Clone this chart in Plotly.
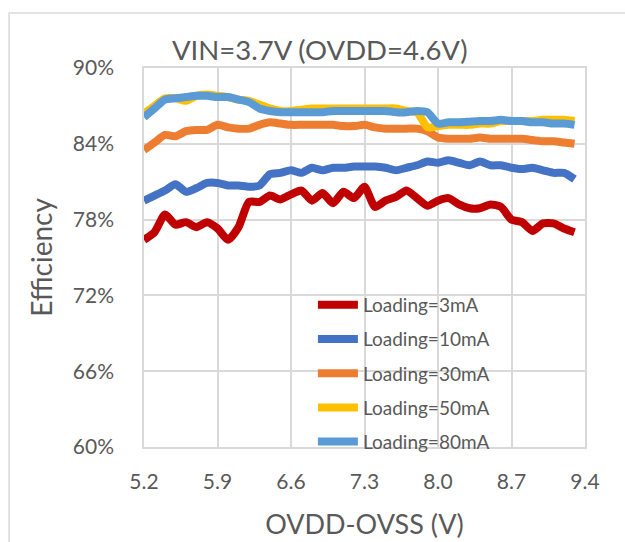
import plotly.graph_objects as go

voltage = [round(5.2 + 0.1 * i, 1) for i in range(42)]

eff_3mA = [76.4, 77.0, 78.4, 77.6, 77.8, 77.4, 77.8, 77.3, 76.4, 77.4,
           79.4, 79.4, 79.9, 79.6, 80.0, 80.3, 79.5, 80.1, 79.3, 80.2,
           79.7, 80.6, 79.0, 79.5, 79.8, 80.3, 79.7, 79.1, 79.5, 79.7,
           79.2, 78.9, 78.9, 79.2, 79.0, 78.0, 77.8, 77.1, 77.7, 77.7,
           77.3, 77.0]
eff_10mA = [79.5, 79.9, 80.3, 80.8, 80.2, 80.5, 80.9, 80.9, 80.7, 80.7,
            80.6, 80.7, 81.6, 81.7, 81.9, 81.7, 82.1, 81.9, 82.1, 82.1,
            82.2, 82.2, 82.2, 82.1, 81.9, 82.1, 82.3, 82.6, 82.5, 82.7,
            82.5, 82.3, 82.6, 82.3, 82.3, 82.1, 82.0, 82.1, 81.9, 81.7,
            81.7, 81.2]
eff_30mA = [83.5, 84.1, 84.7, 84.6, 85.0, 85.1, 85.1, 85.5, 85.3, 85.2,
            85.2, 85.5, 85.7, 85.6, 85.5, 85.5, 85.5, 85.5, 85.5, 85.4,
            85.4, 85.5, 85.3, 85.2, 85.2, 85.2, 85.2, 85.0, 84.5, 84.4,
            84.4, 84.4, 84.5, 84.4, 84.4, 84.4, 84.4, 84.3, 84.2, 84.2,
            84.1, 84.0]
eff_50mA = [86.4, 87.0, 87.6, 87.6, 87.4, 87.8, 87.9, 87.8, 87.7, 87.5,
            87.4, 87.1, 86.8, 86.6, 86.6, 86.7, 86.8, 86.8, 86.8, 86.8,
            86.8, 86.8, 86.8, 86.8, 86.8, 86.6, 86.5, 85.3, 85.4, 85.5,
            85.5, 85.5, 85.6, 85.6, 85.8, 85.8, 85.8, 85.8, 85.9, 85.9,
            85.9, 85.8]
eff_80mA = [86.1, 86.8, 87.5, 87.6, 87.7, 87.8, 87.8, 87.7, 87.7, 87.5,
            87.3, 86.8, 86.6, 86.5, 86.5, 86.5, 86.5, 86.5, 86.6, 86.6,
            86.6, 86.6, 86.6, 86.6, 86.5, 86.5, 86.6, 86.5, 85.6, 85.7,
            85.7, 85.75, 85.8, 85.8, 85.9, 85.8, 85.8, 85.7, 85.7, 85.6,
            85.6, 85.5]

series_names = ["Loading=3mA", "Loading=10mA", "Loading=30mA",
                "Loading=50mA", "Loading=80mA"]
series_values = [eff_3mA, eff_10mA, eff_30mA, eff_50mA, eff_80mA]
series_colors = ["#C00000", "#4472C4", "#ED7D31", "#FFC000", "#5B9BD5"]

x_ticks = [5.2, 5.9, 6.6, 7.3, 8.0, 8.7, 9.4]
y_ticks = [0.60, 0.66, 0.72, 0.78, 0.84, 0.90]

FONT = "Lato"
GRAY = "#595959"
GRID = "#d9d9d9"

fig = go.Figure()
for name, vals, col in zip(series_names, series_values, series_colors):
    fig.add_trace(go.Scatter(
        x=voltage, y=[v / 100 for v in vals], name=name, mode="lines",
        line=dict(color=col, width=8, shape="spline", smoothing=0.6),
        legendgroup=name,
    ))

fig.update_layout(
    width=625, height=542,
    margin=dict(l=144, r=40, t=68, b=95),
    paper_bgcolor="white", plot_bgcolor="white",
    font=dict(family=FONT, color=GRAY),
    showlegend=True,
    legend=dict(x=0.383, y=0.425, xanchor="left", yanchor="top",
                bgcolor="rgba(0,0,0,0)", font=dict(size=19, color=GRAY),
                tracegroupgap=6.5, itemwidth=40),
    annotations=[dict(text="VIN=3.7V (OVDD=4.6V)", xref="paper", yref="paper",
                      x=0.397, y=1.05, xanchor="center", yanchor="middle",
                      showarrow=False, font=dict(size=27.5, color=GRAY))],
    shapes=[dict(type="rect", xref="paper", yref="paper",
                 x0=-0.306, x1=1.2, y0=-0.3, y1=1.145,
                 line=dict(color=GRID, width=1.5), layer="below")],
)
fig.update_xaxes(
    range=[5.2, 9.4], tickvals=x_ticks, ticktext=[f"{v:.1f}" for v in x_ticks],
    showgrid=True, gridcolor=GRID, gridwidth=1.5, zeroline=False,
    showline=True, linecolor=GRID, linewidth=1.5, mirror=True, automargin=False,
    ticks="", ticklabelstandoff=15, tickfont=dict(size=21, color=GRAY),
    title=dict(text="OVDD-OVSS (V)", font=dict(size=27, color=GRAY), standoff=23),
)
fig.update_yaxes(
    range=[0.60, 0.90], tickvals=y_ticks, tickformat=".0%",
    showgrid=True, gridcolor=GRID, gridwidth=1.5, zeroline=False,
    showline=True, linecolor=GRID, linewidth=1.5, mirror=True, automargin=False,
    ticks="", ticklabelstandoff=24, tickfont=dict(size=21, color=GRAY),
    title=dict(text="Efficiency", font=dict(size=28, color=GRAY), standoff=12),
)

fig.write_html("out.html")
